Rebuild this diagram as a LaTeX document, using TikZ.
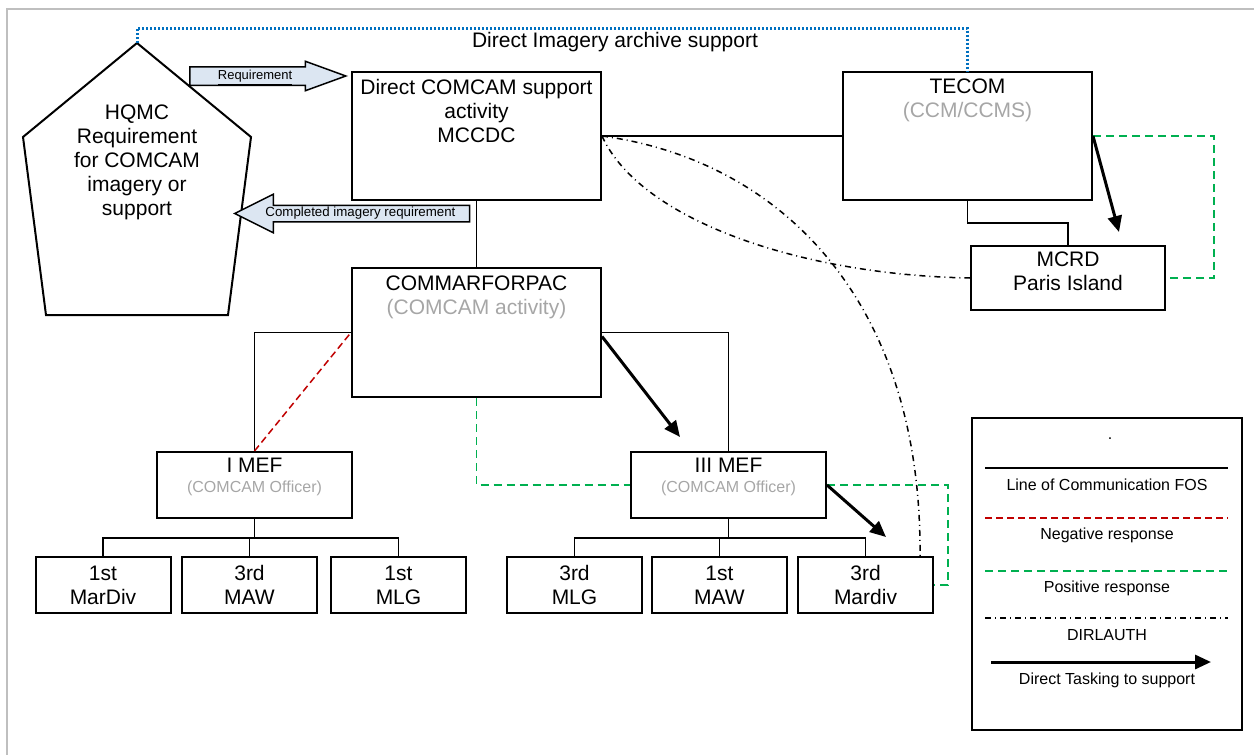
\documentclass[tikz,border=0pt]{standalone}
\usepackage{fontspec}
\setmainfont{Liberation Sans}
\usetikzlibrary{positioning,arrows.meta,shapes.arrows}

\definecolor{archblue}{HTML}{0070C0}
\definecolor{negred}{HTML}{C00000}
\definecolor{posgreen}{HTML}{00B050}
\definecolor{flowfill}{HTML}{DCE6F2}
\definecolor{dimtext}{HTML}{A6A6A6}
\definecolor{framegray}{HTML}{BFBFBF}

\begin{document}
\begin{tikzpicture}[
    x=0.5pt, y=-0.5pt,
    font=\fontsize{10.5}{12}\selectfont,
    unit/.style={draw, line width=1pt, inner sep=0pt},
    cmd/.style={unit, minimum width=124.5pt, minimum height=64pt},
    mef/.style={unit, minimum width=97.5pt, minimum height=33pt},
    sub/.style={unit, minimum width=67.5pt, minimum height=28pt, align=center},
    caption/.style={inner sep=0pt, align=center},
    link/.style={line width=0.75pt},
    negresp/.style={line width=0.75pt, negred, dash pattern=on 3.5pt off 2pt},
    posresp/.style={line width=0.75pt, posgreen, dash pattern=on 4pt off 2.5pt},
    dirlauth/.style={line width=0.75pt, dash pattern=on 3pt off 2pt on 0.5pt off 2pt},
    tasking/.style={line width=1.5pt, -{Triangle[length=8pt,width=7pt]}},
    archive/.style={line width=1.5pt, archblue, dash pattern=on 1pt off 1pt},
    flow/.style={single arrow, draw, fill=flowfill, line width=0.75pt, inner xsep=2pt, anchor=tip},
    keytext/.style={inner sep=0pt, font=\fontsize{8}{9.6}\selectfont}
]

\useasboundingbox (0,0) rectangle (1254,755);
\draw[framegray, line width=1pt] (7,755) |- (1254,9);

% HQMC pentagon
\coordinate (hq-top) at (137,43);
\draw[line width=1pt] (hq-top) -- (251,137) -- (228,315) -- (46,315) -- (23,137) -- cycle;
\node[caption] (hqmc) at (137,162) {HQMC\\Requirement\\for COMCAM\\imagery or\\support};

% Command boxes
\node[cmd] (mccdc) at (476.5,136) {};
\node[cmd] (tecom) at (967.5,136) {};
\node[cmd, minimum height=64.5pt] (commar) at (476.5,332.5) {};
\node[unit, minimum width=97pt, minimum height=32pt] (mcrd) at (1068,278) {};
\node[mef] (imef) at (254.5,485) {};
\node[mef] (iiimef) at (728.5,485) {};

\node[caption, below=3.75pt of mccdc.north] (mccdc-t) {Direct COMCAM support\\activity\\MCCDC};
\node[caption, below=3.75pt of tecom.north] (tecom-t) {TECOM\\{\color{dimtext}(CCM/CCMS)}};
\node[caption, below=4.25pt of commar.north] (commar-t) {COMMARFORPAC\\{\color{dimtext}(COMCAM activity)}};
\node[caption, below=3.25pt of mcrd.north] (mcrd-t) {MCRD\\Paris Island};
\node[caption, below=3.25pt of imef.north] (imef-t) {I MEF\\[-2pt]{\fontsize{8}{9.6}\selectfont\color{dimtext}(COMCAM Officer)}};
\node[caption, below=3.25pt of iiimef.north] (iiimef-t) {III MEF\\[-2pt]{\fontsize{8}{9.6}\selectfont\color{dimtext}(COMCAM Officer)}};

% Subordinate units
\foreach \n/\xx/\txt in {b1/103/1st\\MarDiv, b2/249.5/3rd\\MAW, b3/398.5/1st\\MLG,
    b4/574.5/3rd\\MLG, b5/719.5/1st\\MAW, b6/865.5/3rd\\Mardiv}
    \node[sub] (\n) at (\xx,585) {\txt};

% Requirement flow
\node[flow, minimum height=78pt, single arrow head extend=2.75pt, single arrow tip angle=40,
    text height=4.7pt, text depth=1.5pt, inner ysep=1.15pt,
    font=\fontsize{6.5}{7}\selectfont] (req) at (348,76) {\underline{Requirement}};
\node[flow, shape border rotate=180, minimum height=117.5pt, single arrow head extend=5.5pt,
    single arrow tip angle=53, text height=4.8pt, text depth=1.4pt, inner ysep=0.65pt,
    font=\fontsize{6.65}{7}\selectfont] (done) at (233,213.5) {Completed imagery requirement};

% Lines of communication
\draw[link] (mccdc.east) -- (tecom.west);
\draw[link] (mccdc.south) -- (commar.north);
\draw[link] (tecom.south) -- ++(0,22) -| (mcrd.north);
\draw[link] (commar.west) -| (imef.north);
\draw[link] (commar.east) -| (iiimef.north);
\foreach \b in {b1,b2,b3} \draw[link] (imef.south) -- ++(0,19) -| (\b.north);
\foreach \b in {b4,b5,b6} \draw[link] (iiimef.south) -- ++(0,19) -| (\b.north);

% Archive support
\draw[archive] (hq-top) -- ++(0,-15) -| (tecom.north);
\node (archive-t) at (615,42) {Direct Imagery archive support};

% Responses
\draw[negresp] (imef.north) -- (commar.west);
\draw[posresp] (commar.south) |- (iiimef.west);
\draw[posresp] (iiimef.east) -- ++(121,0) |- (b6.east);
\draw[posresp] (tecom.east) -- ++(121,0) |- (mcrd.east);

% DIRLAUTH
\draw[dirlauth] (mccdc.east) .. controls (780,160) and (922,300) .. ([xshift=-7pt]b6.north east);
\draw[dirlauth] (mccdc.east) .. controls (640,220) and (800,275) .. (mcrd.west);

% Direct tasking
\coordinate (tk1) at (680,437);
\coordinate (tk2) at (886,537);
\coordinate (tk3) at (1119,232);
\draw[tasking] ([yshift=-2pt]commar.east) -- (tk1);
\draw[tasking] (iiimef.east) -- (tk2);
\draw[tasking] (tecom.east) -- (tk3);

% Legend
\node[unit, minimum width=135pt, minimum height=156pt] (legend) at (1107,574) {};
\node[keytext, anchor=base] (dot) at (1110,439) {.};
\foreach \y/\sty/\txt [count=\i] in {468/link/Line of Communication FOS, 518/negresp/Negative response,
    571/posresp/Positive response, 618/dirlauth/DIRLAUTH} {
    \coordinate (ka\i) at (985,\y);
    \coordinate (kb\i) at (1228,\y);
    \draw[\sty] (ka\i) -- (kb\i);
    \node[keytext] (kt\i) at (1107,\y+17) {\txt};
}
\coordinate (ka5) at (991,662);
\coordinate (kb5) at (1211,662);
\draw[tasking] (ka5) -- (kb5);
\node[keytext] (kt5) at (1107,680) {Direct Tasking to support};

\end{tikzpicture}
\end{document}
